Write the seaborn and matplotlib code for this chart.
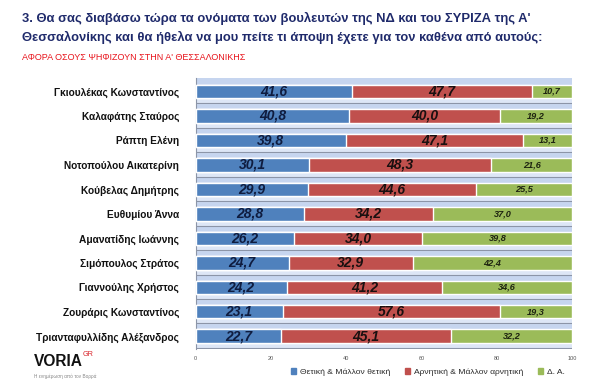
import numpy as np
import pandas as pd
import matplotlib
matplotlib.use("Agg")
import matplotlib.pyplot as plt
import seaborn as sns
from matplotlib.patches import Patch

names = ["Γκιουλέκας Κωνσταντίνος", "Καλαφάτης Σταύρος", "Ράπτη Ελένη",
         "Νοτοπούλου Αικατερίνη", "Κούβελας Δημήτρης", "Ευθυμίου Άννα",
         "Αμανατίδης Ιωάννης", "Σιμόπουλος Στράτος", "Γιαννούλης Χρήστος",
         "Ζουράρις Κωνσταντίνος", "Τριανταφυλλίδης Αλέξανδρος"]
positive = [41.6, 40.8, 39.8, 30.1, 29.9, 28.8, 26.2, 24.7, 24.2, 23.1, 22.7]
negative = [47.7, 40.0, 47.1, 48.3, 44.6, 34.2, 34.0, 32.9, 41.2, 57.6, 45.1]
dk = [10.7, 19.2, 13.1, 21.6, 25.5, 37.0, 39.8, 42.4, 34.6, 19.3, 32.2]
series = ["Θετική & Μάλλον θετική", "Αρνητική & Μάλλον αρνητική", "Δ. Α."]
xticks = [0, 20, 40, 60, 80, 100]

BLUE, RED, GREEN = "#4f81bd", "#c0504d", "#9bbb59"

sns.set_theme(style="white")
plt.rcParams['font.family'] = ['Liberation Sans', 'DejaVu Sans']

df = pd.DataFrame({"name": names, "pos": positive, "neg": negative, "dk": dk})
df["pos_neg"] = df["pos"] + df["neg"]
df["total"] = df["pos_neg"] + df["dk"]

fig = plt.figure(figsize=(6, 3.86), dpi=100)
ax = fig.add_axes([0.326, 0.096, 0.628, 0.702])
ax.set_facecolor("#c6d5ef")

# 3d-ish floor under every row
n = len(names)
for i in range(n):
    ax.axhspan(i + 0.275, i + 0.46, color="#dde6f6", zorder=0)
    ax.axhline(i + 0.48, color="#8c95a8", lw=0.8, zorder=0.5)

w = 0.55
sns.barplot(data=df, y="name", x="total", color=GREEN, saturation=1, width=w, ax=ax, zorder=2)
sns.barplot(data=df, y="name", x="pos_neg", color=RED, saturation=1, width=w, ax=ax, zorder=3)
sns.barplot(data=df, y="name", x="pos", color=BLUE, saturation=1, width=w, ax=ax, zorder=4)

def fmt(v):
    return f"{v:.1f}".replace(".", ",")

for i, row in df.iterrows():
    ax.text(row["pos"] / 2, i, fmt(row["pos"]), ha="center", va="center",
            fontsize=10, fontweight="bold", fontstyle="italic", color="#0f1c3f", zorder=5)
    ax.text(row["pos"] + row["neg"] / 2, i, fmt(row["neg"]), ha="center", va="center",
            fontsize=10, fontweight="bold", fontstyle="italic", color="#1a1010", zorder=5)
    ax.text(row["pos_neg"] + row["dk"] / 2, i, fmt(row["dk"]), ha="center", va="center",
            fontsize=6.6, fontweight="bold", fontstyle="italic", color="#1e2410", zorder=5)

ax.set_xlim(0, 100)
ax.set_ylim(n - 0.48, -0.55)
ax.set_xticks(xticks)
ax.set_xticklabels([str(t) for t in xticks], fontsize=4, color="#555555")
ax.tick_params(axis="x", length=0, pad=5)
ax.set_xlabel("")
ax.set_ylabel("")
ax.tick_params(axis="y", length=0, pad=12)
for lab in ax.get_yticklabels():
    lab.set_fontsize(7.3)
    lab.set_fontweight("bold")
    lab.set_color("#111111")
ax.set_yticks([i + 0.48 for i in range(-1, n)], minor=True)
ax.tick_params(axis="y", which="minor", length=3, color="#8c95a8", width=0.7)
for s in ["top", "right", "bottom"]:
    ax.spines[s].set_visible(False)
ax.spines["left"].set_color("#8c95a8")
ax.spines["left"].set_linewidth(0.8)

fig.text(0.037, 0.953, "3. Θα σας διαβάσω τώρα τα ονόματα των βουλευτών της ΝΔ και του ΣΥΡΙΖΑ της Α'",
         fontsize=9.4, fontweight="bold", color="#1f2a6b", va="center")
fig.text(0.037, 0.903, "Θεσσαλονίκης και θα ήθελα να μου πείτε τι άποψη έχετε για τον καθένα από αυτούς:",
         fontsize=9.4, fontweight="bold", color="#1f2a6b", va="center")
fig.text(0.037, 0.852, "ΑΦΟΡΑ ΟΣΟΥΣ ΨΗΦΙΖΟΥΝ ΣΤΗΝ Α' ΘΕΣΣΑΛΟΝΙΚΗΣ",
         fontsize=6.5, color="#e8141c", va="center")

handles = [Patch(color=c) for c in (BLUE, RED, GREEN)]
fig.legend(handles, series, loc="center", bbox_to_anchor=(0.713, 0.036), ncol=3, frameon=False,
           fontsize=6.1, handlelength=0.6, handleheight=0.6, handletextpad=0.4, columnspacing=1.8,
           labelcolor="#2a2a2a")

# logo
fig.text(0.057, 0.064, "VORIA", fontsize=11.2, fontweight="bold", color="#111111", va="center")
fig.text(0.138, 0.082, "GR", fontsize=5.2, color="#d9232a", va="center")
fig.text(0.057, 0.024, "Η ενημέρωση από τον Βορρά", fontsize=3.4, color="#888888", va="center")

fig.savefig("out.png", dpi=100)
